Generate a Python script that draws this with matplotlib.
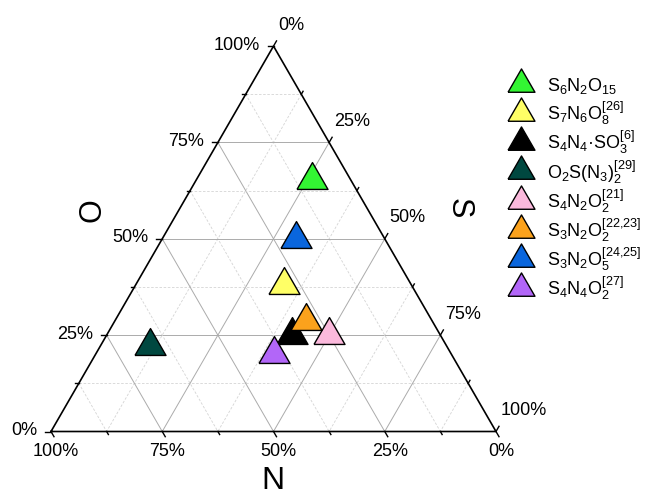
import numpy as np
import matplotlib
matplotlib.use('Agg')
import matplotlib.pyplot as plt

plt.rcParams['font.family'] = ['Liberation Sans', 'DejaVu Sans']
plt.rcParams['mathtext.default'] = 'regular'

# compositions (fractions)
labels = [
  r'S$_6$N$_2$O$_{15}$',
  r'S$_7$N$_6$O$_8^{[26]}$',
  r'S$_4$N$_4$·SO$_3^{[6]}$',
  r'O$_2$S(N$_3$)$_2^{[29]}$',
  r'S$_4$N$_2$O$_2^{[21]}$',
  r'S$_3$N$_2$O$_2^{[22{,}23]}$',
  r'S$_3$N$_2$O$_5^{[24{,}25]}$',
  r'S$_4$N$_4$O$_2^{[27]}$',
]
s_frac = [0.261, 0.333, 0.417, 0.111, 0.500, 0.429, 0.300, 0.400]
n_frac = [0.087, 0.286, 0.333, 0.667, 0.250, 0.286, 0.200, 0.400]
o_frac = [0.652, 0.381, 0.250, 0.222, 0.250, 0.286, 0.500, 0.200]
colors = ['#33f533', '#ffff66', '#000000', '#004840',
          '#fbb9dc', '#fba21c', '#0a66dd', '#b266f8']

tick_vals = [0.0, 0.25, 0.5, 0.75, 1.0]
tick_text = ['0%', '25%', '50%', '75%', '100%']

H = np.sqrt(3) / 2
PX = 1.0 / 445  # one pixel in data units
X0, Y0 = 51, 431.5  # pixel position of the 100% N corner

def xy(s, o):
  return s + o / 2.0, o * H

def pix(px, py):
  return (px - X0) * PX, (Y0 - py) * PX

def main():
  fig = plt.figure(figsize=(6.48, 4.97), dpi=100)
  ax = fig.add_axes([0, 0, 1, 1])
  ax.set_xlim(-X0 * PX, (648 - X0) * PX)
  ax.set_ylim(-(497 - Y0) * PX, Y0 * PX)
  ax.axis('off')

  # grid
  for k in range(1, 8):
    v = k / 8.0
    if k % 2 == 0:
      kw = dict(color='#ababab', lw=0.7, ls='-')
    else:
      kw = dict(color='#d4d4d4', lw=0.6, ls=(0, (3, 2)))
    a = xy(0, v); b = xy(1 - v, v)          # const O
    ax.plot([a[0], b[0]], [a[1], b[1]], zorder=1, **kw)
    a = xy(v, 1 - v); b = xy(v, 0)          # const S
    ax.plot([a[0], b[0]], [a[1], b[1]], zorder=1, **kw)
    a = xy(0, 1 - v); b = xy(1 - v, 0)      # const N
    ax.plot([a[0], b[0]], [a[1], b[1]], zorder=1, **kw)

  # frame
  ax.plot([0, 1, 0.5, 0], [0, 0, H, 0], color='black', lw=1.2, zorder=2,
          solid_joinstyle='miter')

  # ticks
  for k in range(9):
    v = k / 8.0
    ln = (6 if k % 2 == 0 else 3.5) * PX
    x, y = xy(0, v)
    ax.plot([x, x - ln], [y, y], color='black', lw=1.0, zorder=2)
    x, y = xy(1 - v, 0)
    ax.plot([x, x + 0.5 * ln], [y, y - H * ln], color='black', lw=1.0, zorder=2)
    x, y = xy(v, 1 - v)
    ax.plot([x, x + 0.5 * ln], [y, y + H * ln], color='black', lw=1.0, zorder=2)

  fs = 13
  for v, t in zip(tick_vals, tick_text):
    x, y = xy(0, v)
    ax.text(x - 14 * PX, y + 1 * PX, t, ha='right', va='center', fontsize=fs)
    x, y = xy(1 - v, 0)
    ax.text(x + 5 * PX, y - 20.5 * PX, t, ha='center', va='center', fontsize=fs)
    x, y = xy(v, 1 - v)
    ax.text(x + 5 * PX, y + 21 * PX, t, ha='left', va='center', fontsize=fs)

  ax.text(*pix(93, 210), 'O', rotation=90, ha='center', va='center', fontsize=22)
  ax.text(*pix(273, 481), 'N', ha='center', va='center', fontsize=23)
  ax.text(*pix(459, 208), 'S', rotation=-90, ha='center', va='center', fontsize=22)

  # triangle marker with centroid at the origin
  tri = [(-1, -0.577), (1, -0.577), (0, 1.155), (-1, -0.577)]
  for i in range(len(labels)):
    x, y = xy(s_frac[i], o_frac[i])
    ax.plot(x, y, ls='none', marker=tri, ms=25.8, mfc=colors[i], mec='black',
            mew=1.0, zorder=3)

  # legend
  for i in range(len(labels)):
    cy = 80 + 29.2 * i
    ax.plot(*pix(521, cy + 3.7), ls='none', marker=tri, ms=22.4, mfc=colors[i],
            mec='black', mew=1.0, clip_on=False)
    ax.text(*pix(547, cy + 11), labels[i], ha='left', va='baseline', fontsize=13)

  fig.savefig('out.png', dpi=100)

if __name__ == '__main__':
  main()
